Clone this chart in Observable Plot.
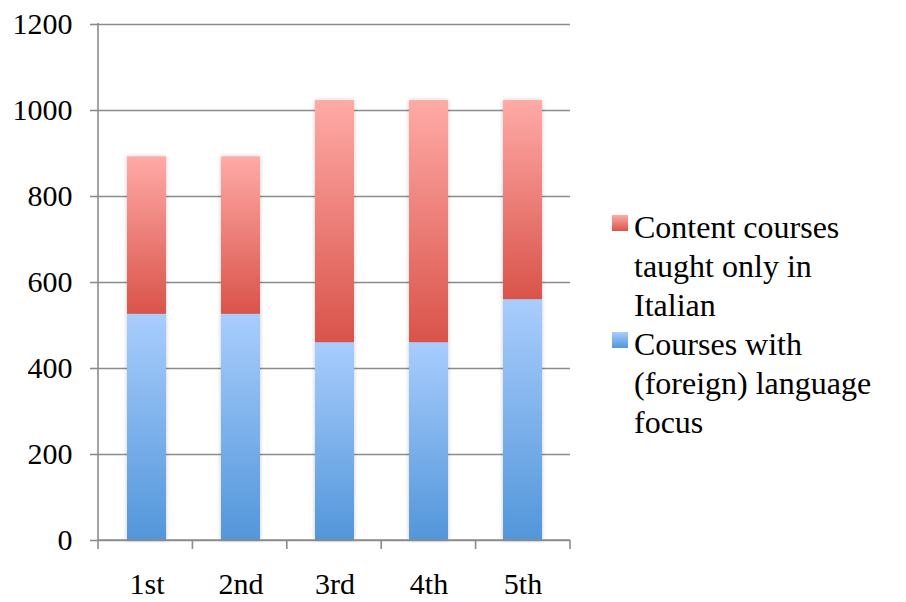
<!DOCTYPE html>
<html>
<head>
<meta charset="utf-8">
<script src="https://cdn.jsdelivr.net/npm/d3@7"></script>
<script src="https://cdn.jsdelivr.net/npm/@observablehq/plot@0.6"></script>
<style>
  html, body { margin: 0; padding: 0; background: #fff; }
  #wrap { position: relative; width: 906px; height: 602px; overflow: hidden; font-family: "Liberation Serif", "Times New Roman", Tinos, "DejaVu Serif", "Noto Serif", Georgia, serif; }
  #legend { position: absolute; left: 612px; top: 208px; font-size: 32px; line-height: 39px; color: #000; }
  .item { display: flex; align-items: flex-start; }
  .sw { width: 16px; height: 16px; margin-top: 7px; margin-right: 6px; flex: none; }
</style>
</head>
<body>
<div id="wrap"><div id="chart"></div><div id="legend"></div></div>
<script>
const years = ["1st", "2nd", "3rd", "4th", "5th"];
const seriesNames = ["Courses with (foreign) language focus", "Content courses taught only in Italian"];
const languageFocus = [526, 526, 460, 460, 560];
const italianOnly = [366, 366, 563, 563, 463];
const yTicks = [0, 200, 400, 600, 800, 1000, 1200];

const data = [];
years.forEach((y, i) => {
  data.push({year: y, series: seriesNames[0], value: languageFocus[i]});
  data.push({year: y, series: seriesNames[1], value: italianOnly[i]});
});

const fontStack = '"Liberation Serif", "Times New Roman", Tinos, "DejaVu Serif", "Noto Serif", Georgia, serif';
const axisColor = "#8c8c8c";
const pInner = 0.587;

const chart = Plot.plot({
  width: 590,
  height: 602,
  marginLeft: 98,
  marginRight: 20,
  marginTop: 24,
  marginBottom: 62,
  style: {fontFamily: fontStack, fontSize: "30px", color: "#000", background: "transparent", overflow: "visible"},
  x: {domain: years, paddingInner: pInner, paddingOuter: pInner / 2, label: null, tickSize: 0, tickPadding: 32},
  y: {domain: [0, 1200], ticks: yTicks, tickFormat: d => String(d), label: null, tickSize: 8, tickPadding: 18},
  color: {domain: seriesNames, range: ["url(#gBlue)", "url(#gRed)"]},
  marks: [
    Plot.ruleY(yTicks, {stroke: axisColor, strokeWidth: 1.6}),
    Plot.barY(data, {x: "year", y: "value", fill: "series", order: seriesNames})
  ]
});

document.getElementById("chart").appendChild(chart);

const svg = d3.select(chart);
svg.style("font-family", fontStack);
const defs = svg.insert("defs", ":first-child");
function grad(id, top, bottom) {
  const g = defs.append("linearGradient").attr("id", id).attr("x1", 0).attr("y1", 0).attr("x2", 0).attr("y2", 1);
  g.append("stop").attr("offset", "0%").attr("stop-color", top);
  g.append("stop").attr("offset", "100%").attr("stop-color", bottom);
}
grad("gBlue", "#a9cdfd", "#5296da");
grad("gRed", "#ffaaa6", "#d9534a");

svg.selectAll("g[aria-label^='y-axis'] line, g[aria-label^='y-axis'] path").attr("stroke", axisColor).attr("stroke-width", 1.6);
svg.selectAll("g[aria-label^='y-axis'] text, g[aria-label^='x-axis'] text").attr("fill", "#000").style("font-family", fontStack);
svg.selectAll("g[aria-label^='x-axis'] path, g[aria-label^='x-axis'] line").attr("stroke", "none");
svg.selectAll("g[aria-label='bar']").style("filter", "drop-shadow(0px 0px 2px rgba(0,0,0,0.22))");

const xs = chart.scale("x"), ys = chart.scale("y");
const [x0, x1] = xs.range;
const yb = ys.apply ? ys.apply(0) : ys.range[0];
const yt = ys.apply ? ys.apply(1200) : ys.range[1];
const step = (x1 - x0) / years.length;
const ax = svg.append("g").attr("stroke", axisColor).attr("stroke-width", 1.6);
ax.append("line").attr("x1", x0).attr("x2", x0).attr("y1", yt - 1).attr("y2", yb + 1);
ax.append("line").attr("x1", x0).attr("x2", x1).attr("y1", yb).attr("y2", yb);
d3.range(years.length + 1).forEach(k => {
  const xx = x0 + k * step;
  ax.append("line").attr("x1", xx).attr("x2", xx).attr("y1", yb).attr("y2", yb + 9);
});

const legendItems = [
  {lines: ["Content courses", "taught only in", "Italian"], top: "#ffaaa6", bottom: "#d9534a"},
  {lines: ["Courses with", "(foreign) language", "focus"], top: "#a9cdfd", bottom: "#5296da"}
];
const legend = document.getElementById("legend");
legendItems.forEach(it => {
  const row = document.createElement("div");
  row.className = "item";
  const sw = document.createElement("div");
  sw.className = "sw";
  sw.style.background = `linear-gradient(${it.top}, ${it.bottom})`;
  const txt = document.createElement("div");
  txt.innerHTML = it.lines.join("<br>");
  row.appendChild(sw);
  row.appendChild(txt);
  legend.appendChild(row);
});
</script>
</body>
</html>
